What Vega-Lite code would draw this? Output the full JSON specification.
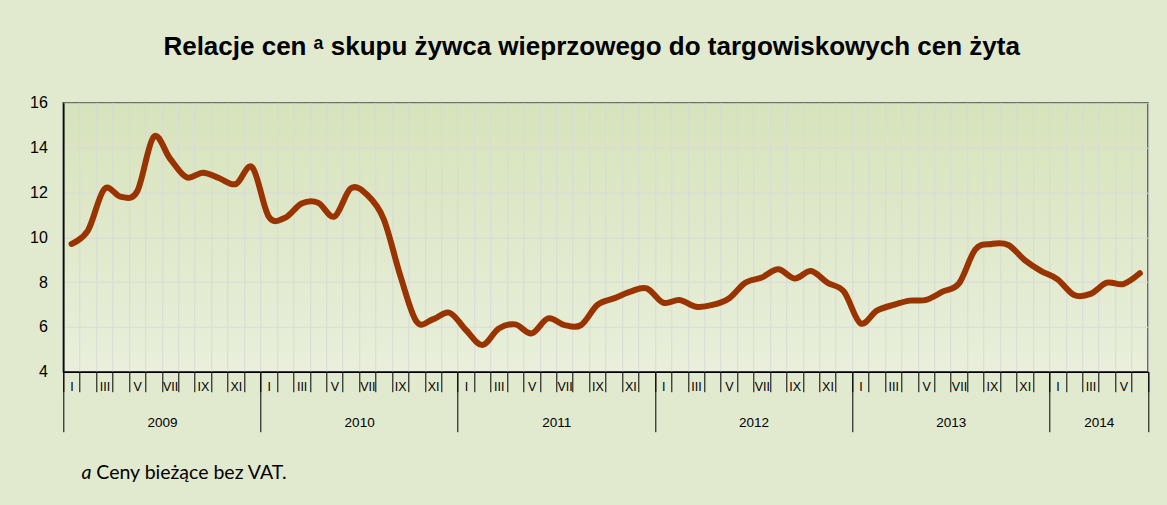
{
  "$schema": "https://vega.github.io/schema/vega-lite/v6.json",
  "width": 1084.7,
  "height": 269,
  "autosize": {"type": "none"},
  "padding": {"left": 63.3, "top": 102.7, "right": 19, "bottom": 133.3},
  "background": "#e1e9cf",
  "title": {
    "text": "Relacje cen ᵃ skupu żywca wieprzowego do targowiskowych cen żyta",
    "font": "Liberation Sans",
    "fontSize": 26,
    "fontWeight": "bold",
    "color": "#000000",
    "anchor": "middle",
    "frame": "group",
    "baseline": "alphabetic",
    "offset": 14,
    "dx": -14
  },
  "config": {
    "view": {
      "stroke": "#404040",
      "strokeWidth": 1.5,
      "fill": {"gradient": "linear", "x1": 0, "y1": 0, "x2": 0, "y2": 1, "stops": [{"offset": 0, "color": "#d7e3bb"}, {"offset": 1, "color": "#e9efdb"}]}
    },
    "axis": {
      "labelFont": "Liberation Sans",
      "labelColor": "#000000",
      "titleColor": "#000000"
    }
  },
  "data": {
    "values": [
      {"m": 1, "rok": 2009, "v": 9.7},
      {"m": 2, "rok": 2009, "v": 10.3},
      {"m": 3, "rok": 2009, "v": 12.15},
      {"m": 4, "rok": 2009, "v": 11.8},
      {"m": 5, "rok": 2009, "v": 12.05},
      {"m": 6, "rok": 2009, "v": 14.48},
      {"m": 7, "rok": 2009, "v": 13.5},
      {"m": 8, "rok": 2009, "v": 12.67},
      {"m": 9, "rok": 2009, "v": 12.88},
      {"m": 10, "rok": 2009, "v": 12.63},
      {"m": 11, "rok": 2009, "v": 12.37},
      {"m": 12, "rok": 2009, "v": 13.12},
      {"m": 13, "rok": 2010, "v": 10.92},
      {"m": 14, "rok": 2010, "v": 10.87},
      {"m": 15, "rok": 2010, "v": 11.5},
      {"m": 16, "rok": 2010, "v": 11.54},
      {"m": 17, "rok": 2010, "v": 10.92},
      {"m": 18, "rok": 2010, "v": 12.18},
      {"m": 19, "rok": 2010, "v": 11.88},
      {"m": 20, "rok": 2010, "v": 10.8},
      {"m": 21, "rok": 2010, "v": 8.3},
      {"m": 22, "rok": 2010, "v": 6.23},
      {"m": 23, "rok": 2010, "v": 6.34},
      {"m": 24, "rok": 2010, "v": 6.63},
      {"m": 25, "rok": 2011, "v": 5.86},
      {"m": 26, "rok": 2011, "v": 5.19},
      {"m": 27, "rok": 2011, "v": 5.93},
      {"m": 28, "rok": 2011, "v": 6.11},
      {"m": 29, "rok": 2011, "v": 5.71},
      {"m": 30, "rok": 2011, "v": 6.38},
      {"m": 31, "rok": 2011, "v": 6.08},
      {"m": 32, "rok": 2011, "v": 6.08},
      {"m": 33, "rok": 2011, "v": 6.98},
      {"m": 34, "rok": 2011, "v": 7.27},
      {"m": 35, "rok": 2011, "v": 7.57},
      {"m": 36, "rok": 2011, "v": 7.72},
      {"m": 37, "rok": 2012, "v": 7.08},
      {"m": 38, "rok": 2012, "v": 7.2},
      {"m": 39, "rok": 2012, "v": 6.9},
      {"m": 40, "rok": 2012, "v": 6.98},
      {"m": 41, "rok": 2012, "v": 7.27},
      {"m": 42, "rok": 2012, "v": 7.97},
      {"m": 43, "rok": 2012, "v": 8.2},
      {"m": 44, "rok": 2012, "v": 8.57},
      {"m": 45, "rok": 2012, "v": 8.16},
      {"m": 46, "rok": 2012, "v": 8.49},
      {"m": 47, "rok": 2012, "v": 7.97},
      {"m": 48, "rok": 2012, "v": 7.57},
      {"m": 49, "rok": 2013, "v": 6.16},
      {"m": 50, "rok": 2013, "v": 6.72},
      {"m": 51, "rok": 2013, "v": 6.98},
      {"m": 52, "rok": 2013, "v": 7.17},
      {"m": 53, "rok": 2013, "v": 7.2},
      {"m": 54, "rok": 2013, "v": 7.57},
      {"m": 55, "rok": 2013, "v": 7.94},
      {"m": 56, "rok": 2013, "v": 9.46},
      {"m": 57, "rok": 2013, "v": 9.7},
      {"m": 58, "rok": 2013, "v": 9.65},
      {"m": 59, "rok": 2013, "v": 8.98},
      {"m": 60, "rok": 2013, "v": 8.49},
      {"m": 61, "rok": 2014, "v": 8.12},
      {"m": 62, "rok": 2014, "v": 7.42},
      {"m": 63, "rok": 2014, "v": 7.47},
      {"m": 64, "rok": 2014, "v": 7.97},
      {"m": 65, "rok": 2014, "v": 7.91},
      {"m": 66, "rok": 2014, "v": 8.39}
    ]
  },
  "resolve": {"axis": {"x": "independent"}},
  "layer": [
    {
      "mark": {"type": "line", "color": "#993300", "strokeWidth": 6, "interpolate": "cardinal", "strokeCap": "round", "strokeJoin": "round"},
      "encoding": {
        "x": {
          "field": "m", "type": "quantitative",
          "scale": {"domain": [0.5, 66.5], "nice": false, "zero": false},
          "axis": {
            "orient": "bottom",
            "values": [0.5,1.5,2.5,3.5,4.5,5.5,6.5,7.5,8.5,9.5,10.5,11.5,12.5,13.5,14.5,15.5,16.5,17.5,18.5,19.5,20.5,21.5,22.5,23.5,24.5,25.5,26.5,27.5,28.5,29.5,30.5,31.5,32.5,33.5,34.5,35.5,36.5,37.5,38.5,39.5,40.5,41.5,42.5,43.5,44.5,45.5,46.5,47.5,48.5,49.5,50.5,51.5,52.5,53.5,54.5,55.5,56.5,57.5,58.5,59.5,60.5,61.5,62.5,63.5,64.5,65.5,66.5],
            "labels": false,
            "title": null,
            "grid": true,
            "gridColor": "#d9d9d9",
            "gridWidth": 1,
            "ticks": true,
            "tickSize": 20,
            "tickColor": "#000000",
            "tickWidth": 1,
            "domain": true,
            "domainColor": "#000000",
            "domainWidth": 1.5
          }
        },
        "y": {
          "field": "v", "type": "quantitative",
          "scale": {"domain": [4, 16], "nice": false, "zero": false},
          "axis": {
            "values": [4, 6, 8, 10, 12, 14, 16],
            "title": null,
            "grid": true,
            "gridColor": "#d9d9d9",
            "gridWidth": 1,
            "ticks": false,
            "labelPadding": 16,
            "labelFontSize": 16,
            "domain": true,
            "domainColor": "#000000",
            "domainWidth": 1.5
          }
        }
      }
    },
    {
      "mark": {"type": "rule", "opacity": 0},
      "encoding": {
        "x": {
          "field": "m", "type": "quantitative",
          "axis": {
            "orient": "bottom",
            "values": [1,3,5,7,9,11,13,15,17,19,21,23,25,27,29,31,33,35,37,39,41,43,45,47,49,51,53,55,57,59,61,63,65],
            "labelExpr": "['I','II','III','IV','V','VI','VII','VIII','IX','X','XI','XII'][(datum.value - 1) % 12]",
            "labelFontSize": 12.5,
            "labelPadding": 9,
            "labelOverlap": false,
            "labelFlush": false,
            "labelBound": false,
            "ticks": false,
            "tickSize": 0,
            "domain": false,
            "grid": false,
            "title": null
          }
        }
      }
    },
    {
      "mark": {"type": "rule", "opacity": 0},
      "encoding": {
        "x": {
          "field": "m", "type": "quantitative",
          "axis": {
            "orient": "bottom",
            "values": [0.5, 12.5, 24.5, 36.5, 48.5, 60.5, 66.5],
            "labels": false,
            "ticks": true,
            "tickSize": 60,
            "tickColor": "#000000",
            "tickWidth": 1,
            "domain": false,
            "grid": false,
            "title": "a",
            "titleFont": "Lato",
            "titleFontSize": 19.5,
            "titleFontWeight": "normal",
            "titleFontStyle": "italic",
            "titleAlign": "left",
            "titleAnchor": "start",
            "titleBaseline": "alphabetic",
            "titleX": 17.7,
            "titleY": 106.3
          }
        }
      }
    },
    {
      "mark": {"type": "rule", "opacity": 0},
      "encoding": {
        "x": {
          "field": "m", "type": "quantitative",
          "axis": {
            "orient": "bottom",
            "values": [6.5, 18.5, 30.5, 42.5, 54.5, 63.5],
            "labelExpr": "'' + (2009 + floor(datum.value / 12))",
            "labelFontSize": 13.5,
            "labelPadding": 44,
            "labelOverlap": false,
            "labelFlush": false,
            "labelBound": false,
            "ticks": false,
            "tickSize": 0,
            "domain": false,
            "grid": false,
            "title": "Ceny bieżące bez VAT.",
            "titleFont": "Lato",
            "titleFontSize": 19.5,
            "titleFontWeight": "normal",
            "titleAlign": "left",
            "titleAnchor": "start",
            "titleBaseline": "alphabetic",
            "titleX": 32.5,
            "titleY": 106.3
          }
        }
      }
    }
  ]
}
